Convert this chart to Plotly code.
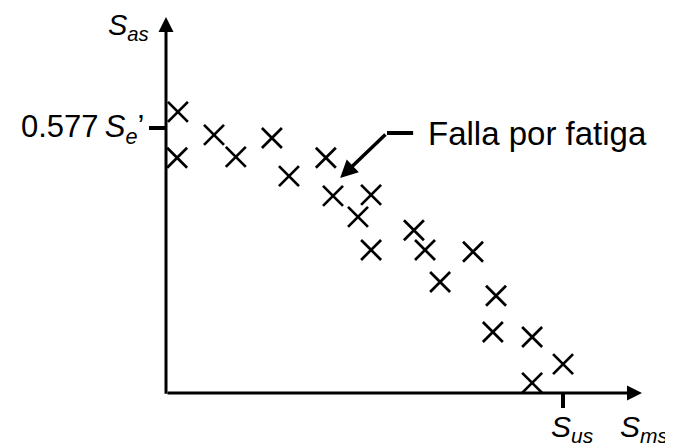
import plotly.graph_objects as go

# Fatigue test results, in units of Se' (vertical) and Sus (horizontal)
sm_vals = [0.030, 0.028, 0.121, 0.176, 0.267, 0.310, 0.403, 0.421, 0.517, 0.484,
           0.517, 0.625, 0.653, 0.691, 0.774, 0.832, 0.824, 0.923, 1.001, 0.923]
sa_vals = [0.613, 0.513, 0.563, 0.515, 0.556, 0.473, 0.513, 0.430, 0.432, 0.384,
           0.312, 0.355, 0.312, 0.242, 0.308, 0.212, 0.133, 0.122, 0.063, 0.022]

x_ticks = [1.0]
x_label = "<i>S<sub>us</sub></i>"
y_ticks = [0.577]
y_label = "0.577\u2009<i>S<sub>e</sub></i>\u2019"

X_MAX = 1.2
Y_MAX = 0.82
FONT = "Liberation Sans, Arial, sans-serif"

fig = go.Figure()
fig.add_trace(go.Scatter(
    x=sm_vals, y=sa_vals, mode="markers",
    marker=dict(symbol="x-thin", size=20, color="black",
                line=dict(width=2.7, color="black")),
    cliponaxis=False, showlegend=False, hoverinfo="skip",
))

# the page body adds an 8px offset, so the figure is 8px smaller
fig.update_layout(
    width=665, height=438,
    margin=dict(l=158, r=31, t=9, b=53),
    paper_bgcolor="white", plot_bgcolor="white",
    font=dict(family=FONT, size=30, color="black"),
    xaxis=dict(range=[0, X_MAX], showgrid=False, zeroline=False, showline=False,
               automargin=False, tickvals=x_ticks, ticktext=[""], ticks="outside",
               ticklen=14, tickwidth=4, tickcolor="black"),
    yaxis=dict(range=[0, Y_MAX], showgrid=False, zeroline=False, showline=False,
               automargin=False, tickvals=y_ticks, ticktext=[""], ticks="outside",
               ticklen=16, tickwidth=4, tickcolor="black"),
)

# axes drawn as arrows
for tip, tail in [((X_MAX, 0), (0, 0)), ((0, Y_MAX), (0, -0.005))]:
    fig.add_annotation(x=tip[0], y=tip[1], ax=tail[0], ay=tail[1],
                       xref="x", yref="y", axref="x", ayref="y",
                       text="", showarrow=True, arrowhead=2, arrowsize=1,
                       arrowwidth=3, arrowcolor="black")

# tick labels and axis labels
fig.add_annotation(x=0, y=y_ticks[0], xref="x", yref="y", xanchor="right", yanchor="top",
                   xshift=-20, yshift=21, text=y_label, showarrow=False,
                   font=dict(size=31))
fig.add_annotation(x=x_ticks[0], y=0, xref="x", yref="y", xanchor="left", yanchor="top",
                   xshift=-14, yshift=-15, text=x_label, showarrow=False,
                   font=dict(size=30))
fig.add_annotation(x=0, y=Y_MAX, xref="x", yref="y", xanchor="right", yanchor="top",
                   xshift=-15, yshift=10, text="<i>S<sub>as</sub></i>",
                   showarrow=False, font=dict(size=29))
fig.add_annotation(x=X_MAX, y=0, xref="x", yref="y", xanchor="left", yanchor="top",
                   xshift=-24, yshift=-15, text="<i>S<sub>ms</sub></i>",
                   showarrow=False, font=dict(size=30))

# callout
fig.add_shape(type="line", x0=0.557, y0=0.567, x1=0.623, y1=0.567,
              xref="x", yref="y", line=dict(color="black", width=4))
fig.add_annotation(x=0.439, y=0.469, ax=0.557, ay=0.567,
                   xref="x", yref="y", axref="x", ayref="y",
                   text="", showarrow=True, arrowhead=2, arrowsize=1,
                   arrowwidth=3.5, arrowcolor="black")
fig.add_annotation(x=0.655, y=0.567, xref="x", yref="y", xanchor="left",
                   yanchor="middle", text="Falla por fatiga", showarrow=False,
                   font=dict(size=33))

fig.write_html("out.html")
